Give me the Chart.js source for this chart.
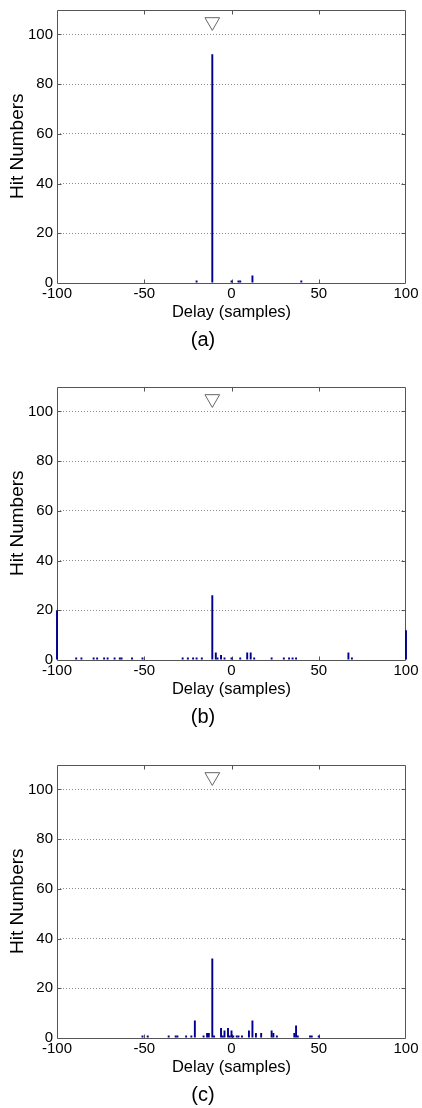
<!DOCTYPE html>
<html><head><meta charset="utf-8">
<script src="https://cdn.jsdelivr.net/npm/chart.js@4.4.1/dist/chart.umd.min.js"></script>
<style>
html,body{margin:0;padding:0;background:#fff;}
body{width:422px;height:1108px;position:relative;overflow:hidden;}
.panel{position:absolute;left:0;width:422px;height:353px;}
</style></head><body>
<div class="panel" style="top:0px"><canvas id="ca" width="422" height="353"></canvas></div>
<div class="panel" style="top:377px"><canvas id="cb" width="422" height="353"></canvas></div>
<div class="panel" style="top:755px"><canvas id="cc" width="422" height="353"></canvas></div>
<script>
// ---- data ----
const delayMin = -100, delayMax = 100;
const xTickValues = [-100, -50, 0, 50, 100];
const yTickValues = [0, 20, 40, 60, 80, 100];
const yMax = 110;
const markerDelay = -11;
const markerLevel = 105;

const delaysA = [-20, -11, 0, 4, 5, 12, 40];
const hitsA   = [1, 92, 1, 1, 1, 3, 1];

const delaysB = [-100,-89,-86,-79,-77,-73,-71,-67,-64,-63,-57,-51,-28,-25,-22,-20,-17,-11,-9,-8,-6,-4,0,5,9,11,13,23,30,33,35,37,67,69,100];
const hitsB   = [20,1,1,1,1,1,1,1,1,1,1,1,1,1,1,1,1,26,3,1,2,1,1,1,3,3,1,1,1,1,1,1,3,1,12];

const delaysC = [-51,-48,-36,-32,-31,-26,-23,-21,-16,-14,-13,-11,-10,-6,-5,-4,-2,-1,0,1,3,4,6,10,12,14,17,23,24,26,36,37,38,45,46,50];
const hitsC   = [1,1,1,1,1,1,1,7,1,2,2,32,1,4,1,3,4,1,3,1,1,1,1,3,7,2,2,3,2,1,2,5,1,1,1,1];

const panelLabels = ['(a)', '(b)', '(c)'];
const xTitle = 'Delay (samples)';
const yTitle = 'Hit Numbers';

// ---- build ----
const delayLabels = [];
for (let d = delayMin; d <= delayMax; d++) delayLabels.push(d);

function toSeries(delays, hits) {
  const arr = delayLabels.map(() => null);
  delays.forEach((d, i) => { arr[delayLabels.indexOf(d)] = hits[i]; });
  return arr;
}

Chart.defaults.font.family = '"Liberation Sans", Arial, Helvetica, sans-serif';
Chart.defaults.color = '#000';

const framePlugin = {
  id: 'frame',
  beforeDatasetsDraw(chart) {
    const {ctx, chartArea: a, scales: {x, y}} = chart;
    const L = Math.round(a.left) + 0.5, R = Math.round(a.right) - 0.5;
    const T = Math.round(a.top) + 0.5, B = Math.round(a.bottom) + 0.5;
    ctx.save();
    ctx.strokeStyle = '#555';
    ctx.lineWidth = 1;
    ctx.beginPath();
    ctx.rect(L, T, R - L, B - T);
    ctx.stroke();
    const tl = 4;
    ctx.beginPath();
    xTickValues.forEach(v => {
      if (v === delayMin || v === delayMax) return;
      const px = Math.round(x.getPixelForValue(x.getLabels().indexOf(v))) + 0.5;
      ctx.moveTo(px, B); ctx.lineTo(px, B - tl);
      ctx.moveTo(px, T); ctx.lineTo(px, T + tl);
    });
    yTickValues.forEach(v => {
      if (v === 0) return;
      const py = Math.round(y.getPixelForValue(v)) + 0.5;
      ctx.moveTo(L, py); ctx.lineTo(L + tl, py);
      ctx.moveTo(R, py); ctx.lineTo(R - tl, py);
    });
    ctx.stroke();
    ctx.restore();
  }
};

function makeChart(id, delays, hits, label) {
  new Chart(document.getElementById(id), {
    type: 'bar',
    data: {
      labels: delayLabels,
      datasets: [
        {
          type: 'line',
          data: [{x: markerDelay, y: markerLevel}],
          showLine: false,
          pointStyle: 'triangle',
          pointRotation: 180,
          pointRadius: 8.5,
          pointBackgroundColor: '#fff',
          pointBorderColor: '#666',
          pointBorderWidth: 1,
          clip: false,
          order: 0
        },
        {
          type: 'bar',
          data: toSeries(delays, hits),
          backgroundColor: '#00008c',
          borderWidth: 0,
          categoryPercentage: 1,
          barPercentage: 1.1,
          clip: {left: 1, right: 1, top: 0, bottom: 0},
          order: 1
        }
      ]
    },
    options: {
      responsive: false,
      animation: false,
      devicePixelRatio: 1,
      layout: {padding: {top: 8, right: 16, left: 0, bottom: 0}},
      plugins: {
        legend: {display: false},
        tooltip: {enabled: false},
        title: {
          display: true, position: 'bottom', text: label,
          font: {size: 20, weight: 'normal'}, color: '#000',
          padding: {top: 0, bottom: 1}
        }
      },
      scales: {
        x: {
          type: 'category',
          offset: false,
          grid: {display: false, drawTicks: false},
          border: {display: false},
          ticks: {
            autoSkip: false, maxRotation: 0, minRotation: 0, padding: 2,
            font: {size: 15}, color: '#000',
            callback: function (value) {
              const d = this.getLabelForValue(value);
              return xTickValues.includes(Number(d)) ? String(d) : '';
            }
          },
          title: {display: true, text: xTitle, font: {size: 16.5}, color: '#000', padding: {top: 0, bottom: 6}},
          afterFit: s => { s.height = 45; s.paddingLeft = 0; s.paddingRight = 0; }
        },
        y: {
          min: 0, max: yMax,
          grid: {
            drawTicks: false,
            color: c => (c.tick && c.tick.value === 0) ? 'rgba(0,0,0,0)' : '#8c8c8c'
          },
          border: {display: false, dash: [1, 2]},
          ticks: {stepSize: 20, padding: 4, font: {size: 15}, color: '#000'},
          afterBuildTicks: s => { s.ticks = s.ticks.filter(t => yTickValues.includes(t.value)); },
          title: {display: true, text: yTitle, font: {size: 19}, color: '#000', padding: {top: 6.5, bottom: 0}},
          afterFit: s => { s.width = 57; s.paddingTop = 0; s.paddingBottom = 0; }
        }
      }
    },
    plugins: [framePlugin]
  });
}

makeChart('ca', delaysA, hitsA, panelLabels[0]);
makeChart('cb', delaysB, hitsB, panelLabels[1]);
makeChart('cc', delaysC, hitsC, panelLabels[2]);
</script>
</body></html>
